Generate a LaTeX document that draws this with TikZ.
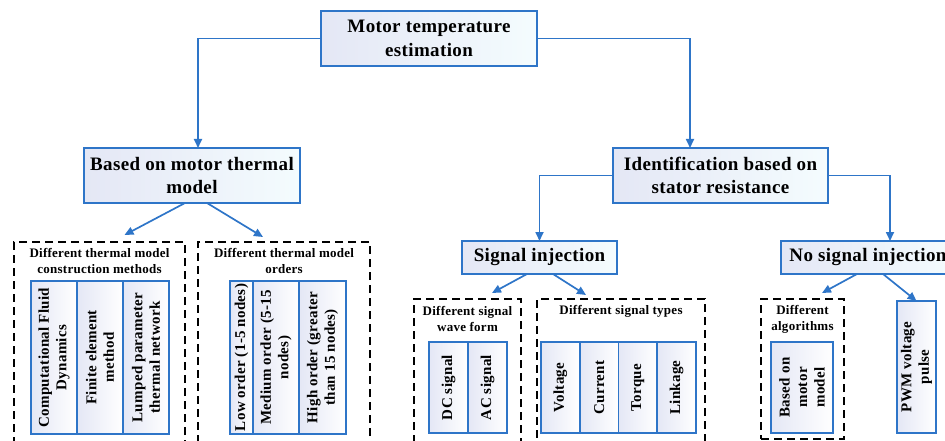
\documentclass[tikz,border=0pt]{standalone}
\usepackage{fontspec}
\setmainfont{Liberation Serif}[LetterSpace=2]
\usetikzlibrary{arrows.meta,positioning}
\definecolor{LineBlue}{RGB}{46,117,200}
\definecolor{BoxLeft}{RGB}{228,231,245}
\definecolor{BoxRight}{RGB}{244,252,254}

\tikzset{
  mainbox/.style={draw=LineBlue,line width=1.8pt,left color=BoxLeft,right color=BoxRight,
    font=\fontsize{19}{23.5}\selectfont\bfseries,align=center,inner sep=0pt,outer sep=0pt},
  groupbox/.style={draw,line width=1.7pt,dash pattern=on 8pt off 5pt,inner sep=0pt,outer sep=0pt},
  grouptitle/.style={font=\fontsize{13}{16}\selectfont\bfseries,align=center},
  cell/.style={draw=LineBlue,line width=1.6pt,rotate=90,left color=BoxLeft,right color=white,
    font=\fontsize{15}{17.5}\selectfont\bfseries,align=center,inner sep=0pt,outer sep=0pt},
  link/.style={LineBlue,line width=1.7pt,-{Triangle[length=9pt,width=8pt]}},
}

\begin{document}
\begin{tikzpicture}[x=1pt,y=-1pt]
\useasboundingbox (0,0) rectangle (945,441);
\clip (0,0) rectangle (945,441);

% tree levels
\node[mainbox,minimum width=216pt,minimum height=55pt] (root) at (429,38.5) {Motor temperature\\estimation};
\node[mainbox,minimum width=216pt,minimum height=55pt] (thermal) at (192,175.5) {Based on motor thermal\\model};
\node[mainbox,minimum width=215pt,minimum height=55pt] (stator) at (720.5,175.5) {Identification based on\\stator resistance};
\node[mainbox,minimum width=155pt,minimum height=33pt] (inject) at (539.5,257.5) {Signal injection};
\node[mainbox,minimum width=174pt,minimum height=33pt] (noinject) at (868,257.5) {No signal injection};

% dashed groups
\node[groupbox,minimum width=171pt,minimum height=230pt] (methods) at (99.5,357) {};
\node[groupbox,minimum width=172pt,minimum height=230pt] (orders) at (284,357) {};
\node[groupbox,minimum width=107pt,minimum height=170pt] (wave) at (467.5,384) {};
\node[groupbox,minimum width=168pt,minimum height=170pt] (types) at (621,384) {};
\node[groupbox,minimum width=83pt,minimum height=140pt] (algo) at (802.5,369) {};

\node[grouptitle] (methods-t) at (99.5,261) {Different thermal model\\construction methods};
\node[grouptitle] (orders-t) at (284,261) {Different thermal model\\orders};
\node[grouptitle] (wave-t) at (467.5,319) {Different signal\\wave form};
\node[grouptitle] (types-t) at (621,311) {Different signal types};
\node[grouptitle] (algo-t) at (802.5,319) {Different\\algorithms};

% cells (rotated: width runs upwards)
\node[cell,minimum width=153pt,minimum height=46pt] (cfd) at (54,357.5) {Computational Fluid\\Dynamics};
\node[cell,minimum width=153pt,minimum height=46pt] (fem) at (100,357.5) {Finite element\\method};
\node[cell,minimum width=153pt,minimum height=46pt] (lptn) at (146,357.5) {Lumped parameter\\thermal network};
\node[cell,minimum width=153pt,minimum height=23pt] (low) at (241.5,357.5) {Low order (1-5 nodes)};
\node[cell,minimum width=153pt,minimum height=46pt] (medium) at (276,357.5) {Medium order (5-15\\nodes)};
\node[cell,minimum width=153pt,minimum height=47pt] (high) at (322.5,357.5) {High order (greater\\than 15 nodes)};

\node[cell,minimum width=91pt,minimum height=39pt] (dc) at (448.5,387.5) {DC signal};
\node[cell,minimum width=91pt,minimum height=39pt] (ac) at (487.5,387.5) {AC signal};
\node[cell,minimum width=91pt,minimum height=38.75pt] (volt) at (560.375,387.5) {Voltage};
\node[cell,minimum width=91pt,minimum height=38.75pt] (curr) at (599.125,387.5) {Current};
\node[cell,minimum width=91pt,minimum height=38.75pt] (torq) at (637.875,387.5) {Torque};
\node[cell,minimum width=91pt,minimum height=38.75pt] (link) at (676.625,387.5) {Linkage};

\node[cell,minimum width=91pt,minimum height=62pt] (model) at (802,387.5) {Based on\\motor\\model};
\node[cell,minimum width=132pt,minimum height=39pt] (pwm) at (916.5,367) {PWM voltage\\pulse};

% connectors
\draw[link] (root.west) -| ([xshift=6pt]thermal.north);
\draw[link] (root.east) -| ([xshift=-30.5pt]stator.north);
\draw[link] (stator.west) -| (inject.north);
\draw[link] (stator.east) -| ([xshift=22pt]noinject.north);
\draw[link] ([xshift=-7pt]thermal.south) -- ([xshift=25pt,yshift=7pt]methods.north);
\draw[link] ([xshift=15pt]thermal.south) -- ([xshift=-21pt,yshift=5pt]orders.north);
\draw[link] ([xshift=-12.5pt]inject.south) -- ([xshift=24.5pt,yshift=6pt]wave.north);
\draw[link] ([xshift=13.5pt]inject.south) -- ([xshift=-35pt,yshift=4pt]types.north);
\draw[link] ([xshift=-11pt]noinject.south) -- ([xshift=19.5pt,yshift=6pt]algo.north);
\draw[link] ([xshift=15pt]noinject.south) -- (pwm.east);
\end{tikzpicture}
\end{document}
